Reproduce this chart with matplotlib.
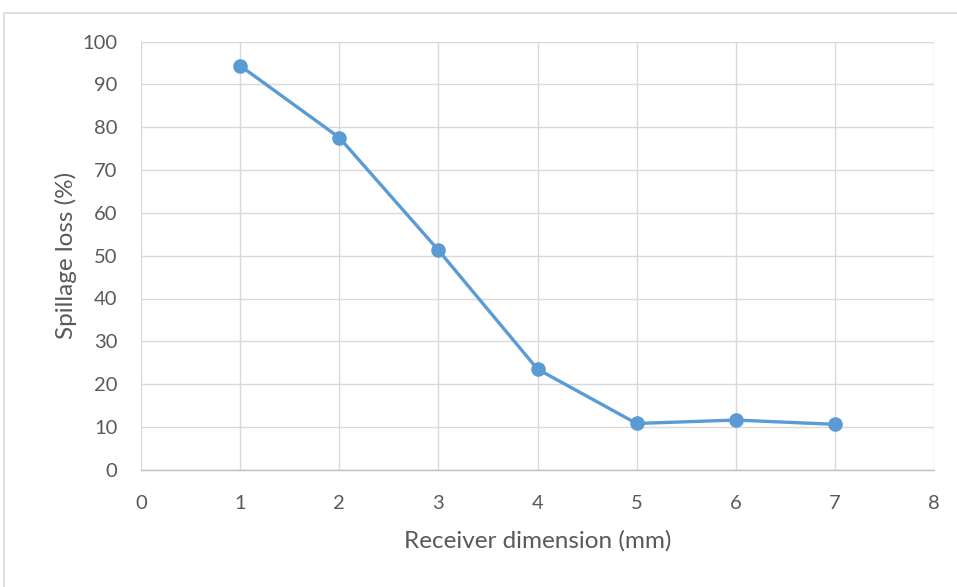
import matplotlib
matplotlib.use("Agg")
import matplotlib.pyplot as plt
from matplotlib.patches import Rectangle

# Spillage loss versus receiver size
receiver_mm = [1, 2, 3, 4, 5, 6, 7]
spillage_pct = [94.4, 77.6, 51.3, 23.5, 10.8, 11.6, 10.6]
x_ticks = [0, 1, 2, 3, 4, 5, 6, 7, 8]
y_ticks = [0, 10, 20, 30, 40, 50, 60, 70, 80, 90, 100]

plt.rcParams['font.family'] = ['Lato', 'DejaVu Sans']

W, H = 957, 587
fig = plt.figure(figsize=(W / 100, H / 100), dpi=100)
fig.patch.set_facecolor('white')

# outer chart frame
fig.patches.append(Rectangle((4 / W, -0.01), 1.02, 1 - 13 / H + 0.01,
                             transform=fig.transFigure, fill=False,
                             edgecolor='#D9D9D9', linewidth=1.2))

ax = fig.add_axes([141 / W, 1 - 469.7 / H, (934 - 141) / W, (469.7 - 41.7) / H])
ax.plot(receiver_mm, spillage_pct, color='#5B9BD5', linewidth=2.4,
        marker='o', markersize=9.5, markeredgecolor='#5B9BD5', zorder=3)

ax.set_xlim(0, 8)
ax.set_ylim(0, 100)
ax.set_xticks(x_ticks)
ax.set_yticks(y_ticks)
ax.grid(True, color='#D9D9D9', linewidth=1)
ax.set_axisbelow(True)
for side in ['top', 'right', 'left']:
    ax.spines[side].set_visible(False)
ax.spines['bottom'].set_color('#BFBFBF')
ax.spines['bottom'].set_linewidth(1)
ax.tick_params(length=0, labelsize=14.5, labelcolor='#595959')
ax.tick_params(axis='x', pad=18)
ax.tick_params(axis='y', pad=17)

ax.set_xlabel('Receiver dimension (mm)', fontsize=17.5, color='#595959', labelpad=13)
ax.set_ylabel('Spillage loss (%)', fontsize=17.5, color='#595959', labelpad=4)

fig.savefig('out.png', dpi=100)
